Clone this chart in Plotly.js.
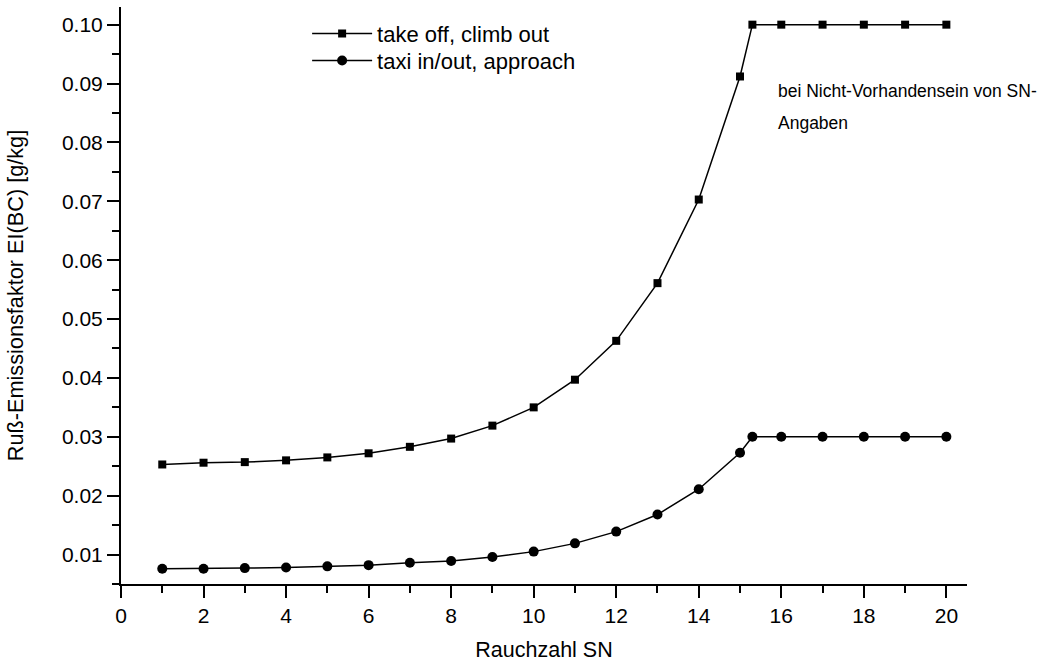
<!DOCTYPE html>
<html>
<head>
<meta charset="utf-8">
<script src="https://cdn.plot.ly/plotly-3.0.1.min.js"></script>
<style>html,body{margin:0;padding:0;background:#fff;}#chart{width:1043px;height:663px;}</style>
</head>
<body>
<div id="chart"></div>
<script>
// Rauchzahl SN
const sn = [1, 2, 3, 4, 5, 6, 7, 8, 9, 10, 11, 12, 13, 14, 15, 15.3, 16, 17, 18, 19, 20];
// take off, climb out
const takeOff = [0.0253, 0.0256, 0.0257, 0.0260, 0.0265, 0.0272, 0.0283, 0.0297, 0.0319, 0.0350, 0.0397, 0.0463, 0.0561, 0.0703, 0.0912, 0.1000, 0.1000, 0.1000, 0.1000, 0.1000, 0.1000];
// taxi in/out, approach
const taxi = [0.0076, 0.0076, 0.0077, 0.0078, 0.0080, 0.0082, 0.0086, 0.0089, 0.0096, 0.0105, 0.0119, 0.0139, 0.0168, 0.0211, 0.0273, 0.0300, 0.0300, 0.0300, 0.0300, 0.0300, 0.0300];

const seriesNames = ["take off, climb out", "taxi in/out, approach"];
const xTitle = "Rauchzahl SN";
const yTitle = "Ruß-Emissionsfaktor EI(BC) [g/kg]";
const noteLines = ["bei Nicht-Vorhandensein von SN-", "Angaben"];

const FONT = "Liberation Sans, Arial, sans-serif";

const traces = [
  {x: sn, y: takeOff, name: seriesNames[0], type: "scatter", mode: "lines+markers", legend: "legend",
   line: {color: "#000", width: 1.5}, marker: {symbol: "square", size: 8, color: "#000"}},
  {x: sn, y: taxi, name: seriesNames[1], type: "scatter", mode: "lines+markers", legend: "legend2",
   line: {color: "#000", width: 1.5}, marker: {symbol: "circle", size: 10, color: "#000"}}
];

const legendBase = {xanchor: "left", yanchor: "top", font: {size: 22, family: FONT},
                    bgcolor: "rgba(0,0,0,0)", itemwidth: 60};

const layout = {
  width: 1043, height: 663,
  margin: {l: 121, r: 76, t: 7, b: 79},
  paper_bgcolor: "#fff", plot_bgcolor: "#fff",
  font: {family: FONT, color: "#000", size: 21},
  showlegend: true,
  legend: Object.assign({x: 0.22, y: 0.99}, legendBase),
  legend2: Object.assign({x: 0.22, y: 0.99 - 27 / 577}, legendBase),
  xaxis: {
    range: [0, 20.5], tickmode: "linear", tick0: 0, dtick: 2,
    showgrid: false, zeroline: false, showline: true, linecolor: "#000", linewidth: 2,
    ticks: "outside", ticklen: 12, tickwidth: 2, tickcolor: "#000",
    tickfont: {size: 21, family: FONT},
    minor: {dtick: 1, ticks: "outside", ticklen: 7, tickwidth: 2, tickcolor: "#000", showgrid: false},
    title: {text: xTitle, font: {size: 21.5, family: FONT}, standoff: 16},
    mirror: false
  },
  yaxis: {
    range: [0.005, 0.103], tickmode: "linear", tick0: 0, dtick: 0.01, tickformat: ".2f",
    showgrid: false, zeroline: false, showline: true, linecolor: "#000", linewidth: 2,
    ticks: "outside", ticklen: 12, tickwidth: 2, tickcolor: "#000",
    tickfont: {size: 21, family: FONT},
    minor: {dtick: 0.005, ticks: "outside", ticklen: 7, tickwidth: 2, tickcolor: "#000", showgrid: false},
    title: {text: yTitle, font: {size: 21.7, family: FONT}, standoff: 32},
    mirror: false
  },
  annotations: [
    {xref: "paper", yref: "paper", x: (776 - 121) / 846, y: (584 - 91) / 577, xanchor: "left", yanchor: "middle",
     text: noteLines[0], showarrow: false, font: {size: 17.5, family: FONT}},
    {xref: "paper", yref: "paper", x: (776 - 121) / 846, y: (584 - 123) / 577, xanchor: "left", yanchor: "middle",
     text: noteLines[1], showarrow: false, font: {size: 17.5, family: FONT}}
  ]
};

Plotly.newPlot("chart", traces, layout, {displayModeBar: false, staticPlot: true});
</script>
</body>
</html>
